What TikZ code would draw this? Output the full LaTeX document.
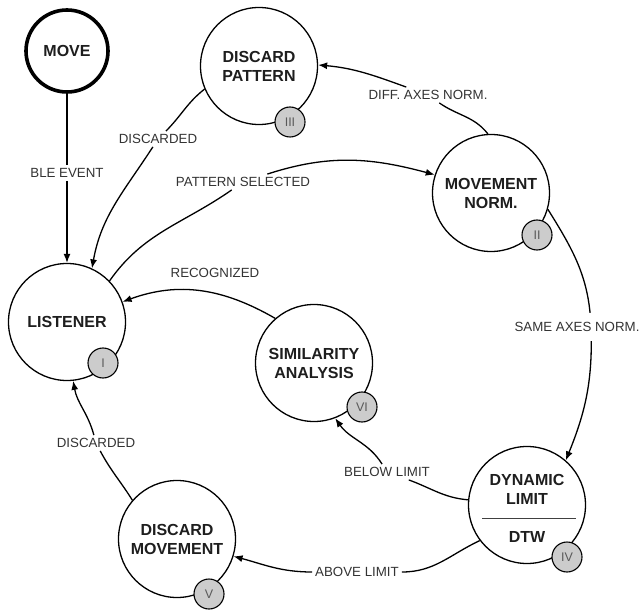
\documentclass[tikz,border=0pt]{standalone}
\usepackage{fontspec}
\setmainfont{Liberation Sans}
\usetikzlibrary{arrows.meta}
\definecolor{badgegray}{HTML}{CCCCCC}
\definecolor{txt}{HTML}{1E1E1E}
\definecolor{lbltxt}{HTML}{333333}
\begin{document}
\begin{tikzpicture}[x=1pt,y=1pt,
  state/.style={circle,draw=black,line width=1.3pt,minimum size=117pt,inner sep=0pt,
    align=center,font=\fontsize{16}{19}\selectfont\bfseries,text=txt,fill=white},
  startstate/.style={state,line width=3.6pt,minimum size=82pt},
  badge/.style={circle,draw=black,line width=1.1pt,fill=badgegray,minimum size=30pt,
    inner sep=0pt,font=\fontsize{12.5}{14}\selectfont,text=black!65},
  lbl/.style={fill=white,inner sep=3pt,font=\fontsize{13.3}{15}\selectfont,text=lbltxt},
  edge/.style={line width=1.3pt,-{Latex[length=9pt,width=7pt]}},
  plainedge/.style={line width=1.3pt}
]
\useasboundingbox (0,0) rectangle (639,611);

% states
\node[startstate] (move) at (67,560) {MOVE};
\node[state] (dp) at (259,545) {DISCARD\\PATTERN};
\node[state] (mn) at (491,418) {MOVEMENT\\NORM.};
\node[state] (lis) at (67,289) {LISTENER};
\node[state] (sa) at (314,248) {SIMILARITY\\ANALYSIS};
\node[state] (dl) at (527,106) {};
\node[state] (dm) at (177,72) {DISCARD\\MOVEMENT};

% dynamic limit inner content
\node[font=\fontsize{16}{19}\selectfont\bfseries,text=txt,align=center] (dltxt) at (527,121.5) {DYNAMIC\\LIMIT};
\node[font=\fontsize{16}{19}\selectfont\bfseries,text=txt] (dtw) at (527,74) {DTW};
\draw[line width=0.8pt,black!75] (482,93) -- (576,93);

% labels on connectors
\node[lbl] (ble) at (67,438) {BLE EVENT};
\node[lbl] (dis1) at (158,472) {DISCARDED};
\node[lbl] (psel) at (243,429) {PATTERN SELECTED};
\node[lbl] (diff) at (428,516) {DIFF. AXES NORM.};
\node[lbl] (dis2) at (96,168) {DISCARDED};
\node[lbl] (below) at (387,139) {BELOW LIMIT};
\node[lbl] (above) at (357,39) {ABOVE LIMIT};
\coordinate (sameC) at (591,284);

% connectors
\draw[edge] (move) -- (ble) -- (lis);
\draw[edge] (dp.203) to[out=218,in=45] (dis1) to[out=237,in=80] (lis.65);
\draw[edge] (lis.44) to[out=55,in=215] (psel) to[out=18,in=165] (mn.162);
\draw[edge] (mn.93) to[out=128,in=-35] (diff) to[out=160,in=-5] (dp.1);
\draw[edge] (mn.-16) to[out=-58,in=92] (sameC) to[out=-88,in=68] (dl.49);
\draw[edge] (dl.175) to[out=175,in=-20] (below) to[out=122,in=-55] (sa.-69);
\draw[edge] (sa.131) to[out=150,in=20] (lis.20);
\draw[edge] (dl.217) to[out=205,in=0] (above) to[out=180,in=-15] (dm.-17);
\draw[edge] (dm.139) to[out=122,in=-62] (dis2) to[out=105,in=-80] (lis.-84);

% labels drawn over connectors
\node[lbl,inner ysep=9pt,inner xsep=1pt] (same) at (577,284) {SAME AXES NORM.};
\node[font=\fontsize{13.3}{15}\selectfont,text=lbltxt] (rec) at (215,338) {RECOGNIZED};

% badges
\node[badge] (b1) at (103,248) {I};
\node[badge] (b2) at (537,376) {II};
\node[badge] (b3) at (290,489) {III};
\node[badge] (b4) at (567,54) {IV};
\node[badge] (b5) at (209,17) {V};
\node[badge] (b6) at (362,204) {VI};
\end{tikzpicture}
\end{document}
